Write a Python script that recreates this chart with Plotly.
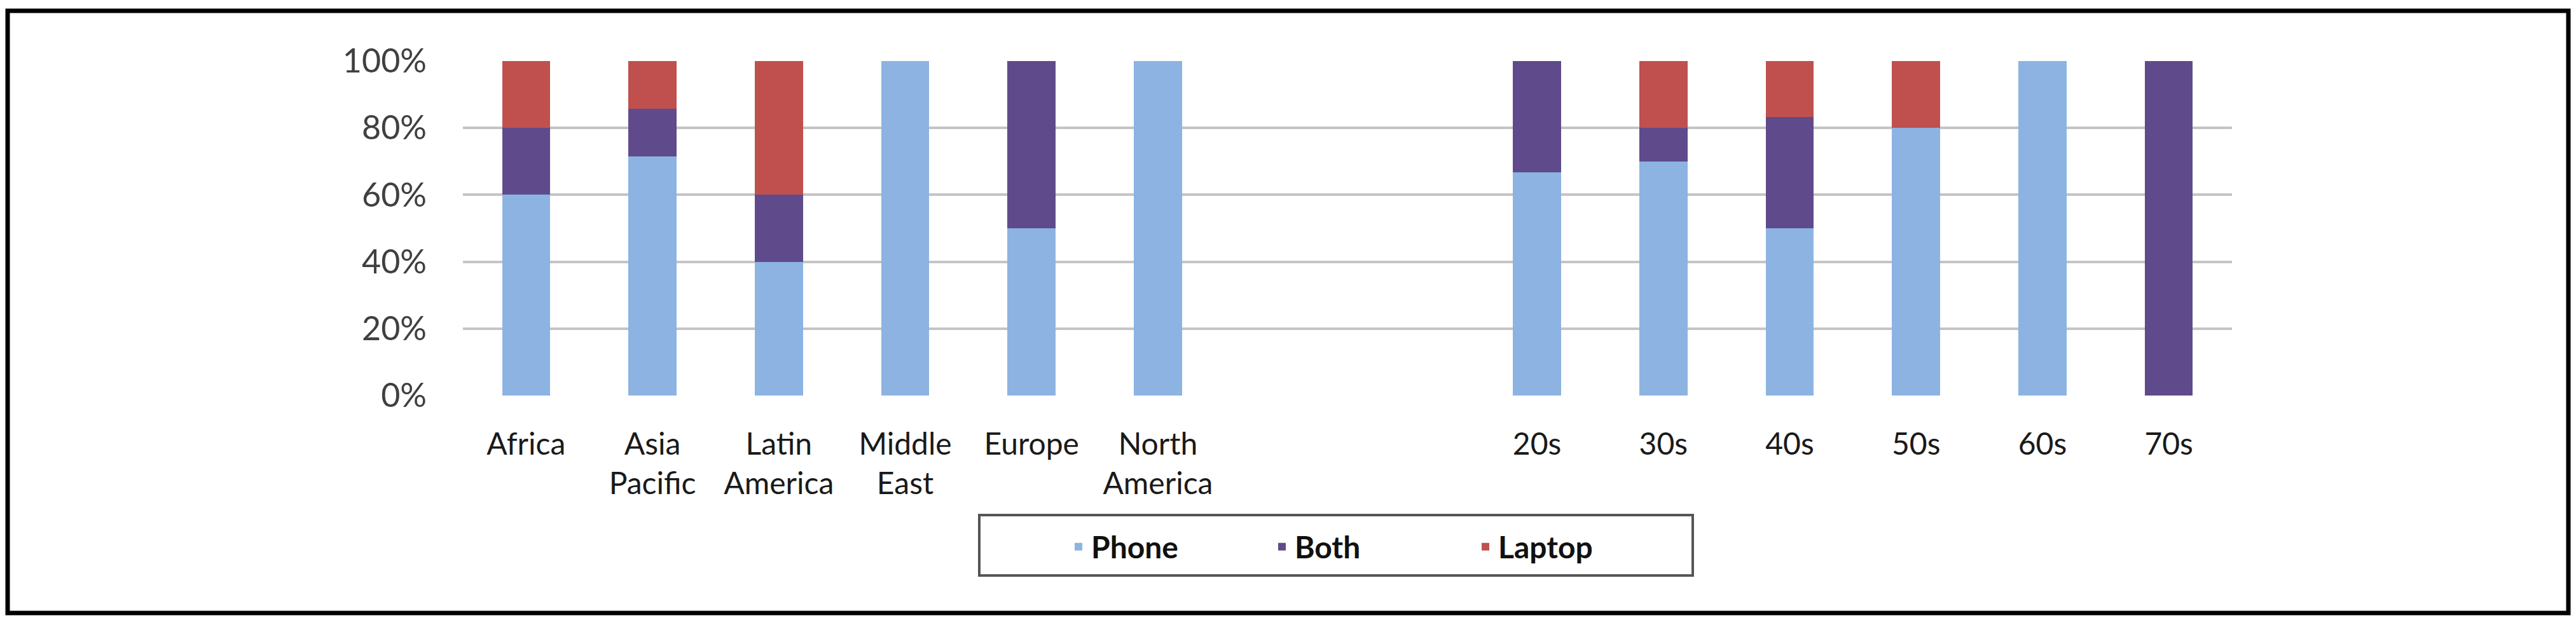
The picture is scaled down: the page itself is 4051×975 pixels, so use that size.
import plotly.graph_objects as go

# ---- data ----
categories = ["Africa", "Asia<br>Pacific", "Latin<br>America", "Middle<br>East", "Europe",
              "North<br>America", "", "", "20s", "30s", "40s", "50s", "60s", "70s"]
phone  = [60, 71.4, 40, 100, 50, 100, None, None, 66.7, 70, 50, 80, 100, 0]
both   = [20, 14.3, 20, 0, 50, 0, None, None, 33.3, 10, 33.3, 0, 0, 100]
laptop = [20, 14.3, 40, 0, 0, 0, None, None, 0, 20, 16.7, 20, 0, 0]
y_ticks = [0, 20, 40, 60, 80, 100]
y_tick_labels = ["0%", "20%", "40%", "60%", "80%", "100%"]

series = [("Phone", phone, "#8DB3E2"), ("Both", both, "#5F4B8B"), ("Laptop", laptop, "#C0504D")]

W, H = 4051, 975
L, R, T, B = 728, 3510, 96, 622   # plot area in pixels
pw, ph = R - L, B - T

def px(x):
    return (x - L) / pw

def py(y):
    return (B - y) / ph

xs = list(range(len(categories)))

fig = go.Figure()
for name, vals, col in series:
    fig.add_trace(go.Bar(x=xs, y=vals, name=name, width=0.38,
                         marker=dict(color=col, line=dict(width=0))))

FONT = "Lato, Calibri, Arial, sans-serif"

fig.update_layout(
    width=W, height=H,
    margin=dict(l=L, r=W - R, t=T, b=H - B, pad=0),
    barmode="stack",
    paper_bgcolor="white", plot_bgcolor="white",
    font=dict(family=FONT, color="#262626"),
    xaxis=dict(range=[-0.5, len(categories) - 0.5], tickvals=xs, ticktext=categories,
               showgrid=False, zeroline=False, showline=False, ticks="",
               tickfont=dict(size=48, color="#1a1a1a"), ticklabelstandoff=44),
    yaxis=dict(range=[0, 100], tickvals=y_ticks, ticktext=y_tick_labels,
               showgrid=True, gridcolor="#C4C4C4", gridwidth=4,
               zeroline=False, showline=False, ticks="",
               tickfont=dict(size=52, color="#404040"), ticklabelstandoff=56),
    legend=dict(orientation="h", x=px(1676), xanchor="left", y=py(860), yanchor="middle",
                font=dict(size=48, family=FONT, color="#111111", weight="bold"),
                traceorder="normal", entrywidth=275, bgcolor="rgba(0,0,0,0)", borderwidth=0),
    shapes=[
        dict(type="rect", xref="paper", yref="paper",
             x0=px(12), x1=px(4039), y0=py(964), y1=py(17),
             line=dict(color="black", width=7), fillcolor="rgba(0,0,0,0)", layer="above"),
        dict(type="rect", xref="paper", yref="paper",
             x0=px(1540), x1=px(2662), y0=py(905), y1=py(810),
             line=dict(color="#555555", width=4), fillcolor="rgba(0,0,0,0)", layer="above"),
    ],
    showlegend=True,
)

fig.write_html("out.html", config={"displayModeBar": False},
               post_script="document.body.style.margin='0';document.body.style.overflow='hidden';")
